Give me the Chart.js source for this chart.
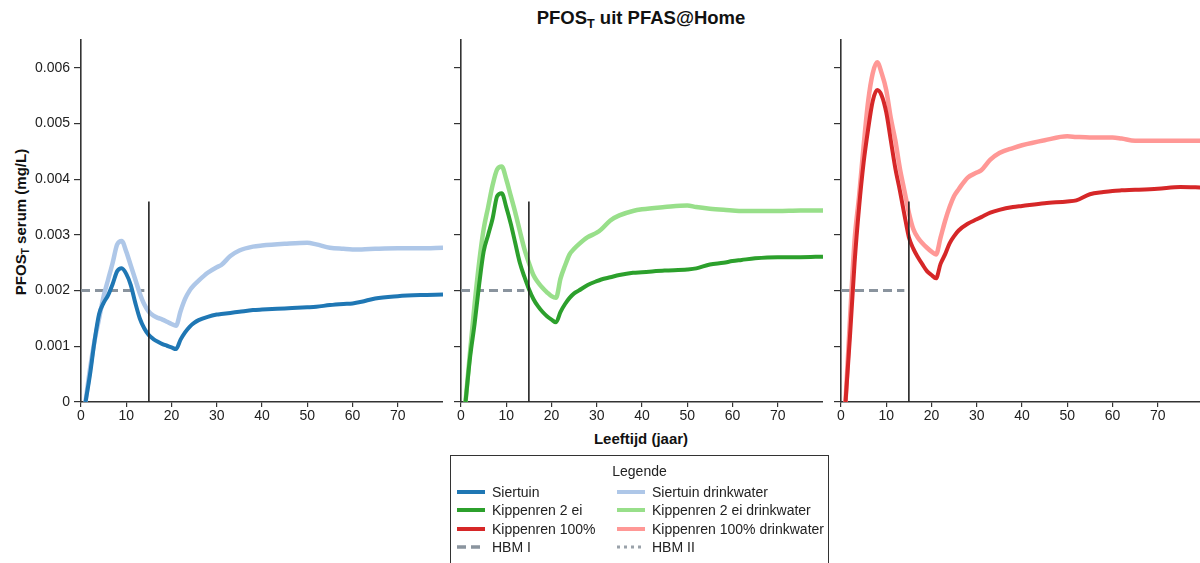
<!DOCTYPE html>
<html><head><meta charset="utf-8">
<script src="https://cdn.jsdelivr.net/npm/chart.js@4.4.1/dist/chart.umd.min.js"></script>
<style>
html,body{margin:0;padding:0}
body{width:1200px;height:563px;overflow:hidden;background:#fff;font-family:"Liberation Sans",Arial,sans-serif;color:#222;position:relative}
.pc{position:absolute;top:0;height:450px}
.pc canvas{display:block}
#title{position:absolute;left:641px;top:18px;transform:translate(-50%,-50%);white-space:nowrap;font-weight:bold;font-size:18.5px;color:#111}
#title sub,#ytitle sub{font-size:0.68em;vertical-align:-0.3em;line-height:0}
#ytitle{position:absolute;left:20px;top:222px;transform:translate(-50%,-50%) rotate(-90deg);white-space:nowrap;font-weight:bold;font-size:15px;color:#111}
#xtitle{position:absolute;left:641px;top:438px;transform:translate(-50%,-50%);white-space:nowrap;font-weight:bold;font-size:15px;color:#111}
#legend{position:absolute;left:450px;top:455px;width:379px;height:130px;border:1.5px solid #333;box-sizing:border-box}
#legend .hd{position:absolute;left:0;width:100%;top:15px;transform:translateY(-50%);text-align:center;font-size:14px}
#legend .it{position:absolute;transform:translateY(-50%);display:flex;align-items:center;font-size:14px;white-space:nowrap}
#legend svg{margin-right:7px}
</style></head>
<body>
<div id="title">PFOS<sub>T</sub> uit PFAS@Home</div>
<div id="ytitle">PFOS<sub>T</sub> serum (mg/L)</div>
<div id="xtitle">Leeftijd (jaar)</div>
<div class="pc" id="p1" style="left:0px;width:443px"><canvas id="c1"></canvas></div>
<div class="pc" id="p2" style="left:441px;width:382px"><canvas id="c2"></canvas></div>
<div class="pc" id="p3" style="left:821px;width:382px"><canvas id="c3"></canvas></div>
<div id="legend"></div>
<script>
// ---- data ----
const ages = [1,2,3,4,5,6,7,8,9,10,11,12,13,14,15,16,17,18,19,20,21,22,23,24,25,26,28,30,31,33,35,38,40,45,50,52,55,58,60,62,65,70,75,80];
const siertuin = [0,0.0005,0.0011,0.00158,0.00178,0.00192,0.00212,0.00235,0.0024,0.0023,0.0021,0.00178,0.0015,0.00132,0.0012,0.00113,0.00108,0.00104,0.00101,0.00098,0.00095,0.00112,0.00125,0.00135,0.00142,0.00147,0.00153,0.00157,0.00158,0.0016,0.00162,0.00165,0.00166,0.00168,0.0017,0.00171,0.00174,0.00176,0.00177,0.0018,0.00186,0.0019,0.00192,0.00193];
const siertuinDrinkwater = [0,0.0006,0.0011,0.0015,0.0019,0.0022,0.0025,0.00283,0.00289,0.0027,0.00245,0.0022,0.00195,0.00175,0.00162,0.00155,0.00151,0.00148,0.00144,0.0014,0.00137,0.00163,0.00185,0.002,0.0021,0.00218,0.00232,0.00242,0.00246,0.00262,0.00272,0.00279,0.00281,0.00284,0.00286,0.00283,0.00277,0.00275,0.00274,0.00274,0.00275,0.00276,0.00276,0.00277];
const kippen2ei = [0,0.0008,0.0014,0.0021,0.0027,0.003,0.0033,0.0037,0.00375,0.0035,0.0032,0.00285,0.0025,0.00225,0.00203,0.00185,0.00172,0.00162,0.00154,0.00148,0.00143,0.00162,0.00176,0.00187,0.00195,0.002,0.0021,0.00217,0.0022,0.00224,0.00228,0.00232,0.00233,0.00236,0.00238,0.0024,0.00247,0.0025,0.00253,0.00255,0.00258,0.0026,0.0026,0.00261];
const kippen2eiDrinkwater = [0,0.0009,0.00175,0.0025,0.0031,0.0035,0.0039,0.00418,0.00423,0.004,0.0037,0.0034,0.00307,0.00275,0.0025,0.00228,0.00215,0.00205,0.00197,0.0019,0.00187,0.00222,0.00245,0.00265,0.00275,0.00283,0.00296,0.00304,0.0031,0.00326,0.00335,0.00343,0.00346,0.0035,0.00353,0.0035,0.00347,0.00345,0.00344,0.00343,0.00343,0.00343,0.00344,0.00344];
const kippen100 = [0,0.0012,0.0025,0.0035,0.0043,0.0049,0.0054,0.0056,0.0055,0.0052,0.0047,0.0042,0.0038,0.00337,0.00296,0.00275,0.0026,0.00247,0.00235,0.00228,0.00222,0.00248,0.00265,0.00285,0.00298,0.00308,0.0032,0.00328,0.00332,0.0034,0.00345,0.0035,0.00352,0.00357,0.0036,0.00362,0.00373,0.00377,0.00379,0.0038,0.00381,0.00383,0.00386,0.00385];
const kippen100Drinkwater = [0,0.0015,0.0029,0.0037,0.0046,0.0054,0.0059,0.0061,0.0059,0.0056,0.0051,0.0047,0.0042,0.0038,0.0034,0.0031,0.00295,0.00285,0.00277,0.0027,0.00265,0.00295,0.00325,0.0035,0.0037,0.00382,0.00403,0.00412,0.00416,0.00435,0.00447,0.00456,0.00461,0.0047,0.00477,0.00476,0.00475,0.00475,0.00475,0.00473,0.00469,0.00469,0.00469,0.00469];
const hbmI = 0.002, hbmIEnd = 14;
const markerAge = 15, markerTop = 0.0036;
const yTicks = [0,0.001,0.002,0.003,0.004,0.005,0.006];
const xTicks = [0,10,20,30,40,50,60,70];

const panels = [
  {id:'c1', dark:{label:'Siertuin',data:siertuin,color:'#1f77b4'}, light:{label:'Siertuin drinkwater',data:siertuinDrinkwater,color:'#aec7e8'}, labels:true},
  {id:'c2', dark:{label:'Kippenren 2 ei',data:kippen2ei,color:'#2ca02c'}, light:{label:'Kippenren 2 ei drinkwater',data:kippen2eiDrinkwater,color:'#98df8a'}, labels:false},
  {id:'c3', dark:{label:'Kippenren 100%',data:kippen100,color:'#d62728'}, light:{label:'Kippenren 100% drinkwater',data:kippen100Drinkwater,color:'#ff9896'}, labels:false}
];

const pts = arr => ages.map((a,i)=>({x:a,y:arr[i]}));
const tickFont = {family:'"Liberation Sans", Arial, sans-serif', size:14};

panels.forEach(p=>{
  new Chart(document.getElementById(p.id), {
    type:'line',
    data:{datasets:[
      {label:'marker', data:[{x:markerAge,y:0},{x:markerAge,y:markerTop}], borderColor:'#222', borderWidth:1.6, pointRadius:0, order:0},
      {label:p.dark.label, data:pts(p.dark.data), borderColor:p.dark.color, borderWidth:4, pointRadius:0, cubicInterpolationMode:'monotone', order:1},
      {label:p.light.label, data:pts(p.light.data), borderColor:p.light.color, borderWidth:4.5, pointRadius:0, cubicInterpolationMode:'monotone', order:2},
      {label:'HBM I', data:[{x:0,y:hbmI},{x:hbmIEnd,y:hbmI}], borderColor:'#8a949e', borderWidth:3, borderDash:[9,5], pointRadius:0, order:3}
    ]},
    options:{
      responsive:true, maintainAspectRatio:false, animation:false,
      layout:{padding:{top:40,right:0,bottom:0,left:0}},
      plugins:{legend:{display:false}, tooltip:{enabled:false}, title:{display:false}},
      scales:{
        x:{type:'linear', min:0, max:80,
           afterBuildTicks: s=>{ s.ticks = xTicks.map(v=>({value:v})); },
           afterFit: s=>{ s.height = 48; },
           ticks:{font:tickFont, color:'#222', padding:1, maxRotation:0, autoSkip:false},
           grid:{display:true, drawOnChartArea:false, drawTicks:true, tickLength:5, color:'#333', lineWidth:1.2},
           border:{display:true, color:'#333', width:1.6}},
        y:{type:'linear', min:0, max:0.0065,
           afterBuildTicks: s=>{ s.ticks = yTicks.map(v=>({value:v})); },
           afterFit: s=>{ s.width = p.labels ? 81 : 20; },
           ticks:{font:tickFont, color:'#222', padding:4, callback: v => p.labels ? String(+v.toFixed(3)) : ''},
           grid:{display:true, drawOnChartArea:false, drawTicks:true, tickLength:7, color:'#333', lineWidth:1.2},
           border:{display:true, color:'#333', width:1.6}}
      }
    }
  });
});

// ---- legend ----
const legendItems = [
  {label:'Siertuin', color:'#1f77b4', dash:null},
  {label:'Siertuin drinkwater', color:'#aec7e8', dash:null},
  {label:'Kippenren 2 ei', color:'#2ca02c', dash:null},
  {label:'Kippenren 2 ei drinkwater', color:'#98df8a', dash:null},
  {label:'Kippenren 100%', color:'#d62728', dash:null},
  {label:'Kippenren 100% drinkwater', color:'#ff9896', dash:null},
  {label:'HBM I', color:'#8a949e', dash:'9,5'},
  {label:'HBM II', color:'#9aa2aa', dash:'3,4'}
];
const lg = document.getElementById('legend');
const hd = document.createElement('div'); hd.className='hd'; hd.textContent='Legende'; lg.appendChild(hd);
legendItems.forEach((it,i)=>{
  const col = i%2, row = Math.floor(i/2);
  const d = document.createElement('div'); d.className='it';
  d.style.left = (col ? 166 : 6) + 'px';
  d.style.top = (35.5 + row*18.5) + 'px';
  const sw = it.dash ? `stroke-dasharray="${it.dash}"` : '';
  d.innerHTML = `<svg width="28" height="6"><line x1="0" y1="3" x2="28" y2="3" stroke="${it.color}" stroke-width="${it.dash? (it.dash==='3,4'?3:3.5):4}" ${sw}/></svg><span>${it.label}</span>`;
  lg.appendChild(d);
});
</script>
</body></html>
